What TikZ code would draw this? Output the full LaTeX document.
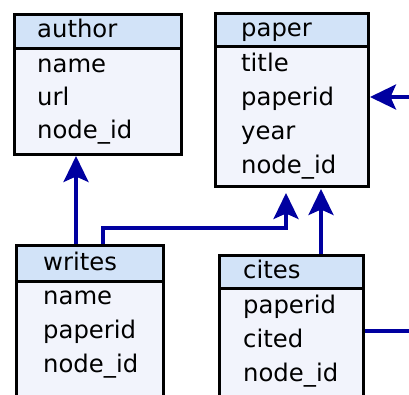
\documentclass[tikz,border=0pt]{standalone}
\usepackage{fontspec}
\setmainfont{DejaVu Sans}
\usetikzlibrary{arrows.meta}
\definecolor{hdr}{RGB}{210,227,248}
\definecolor{bdy}{RGB}{242,244,252}
\definecolor{lnk}{RGB}{0,0,160}
\begin{document}
\begin{tikzpicture}[x=1pt,y=-1pt,
  cell/.style={draw=black,line width=3pt,anchor=north west,inner sep=0pt},
  headcell/.style={cell,fill=hdr},
  bodycell/.style={cell,fill=bdy},
  fld/.style={anchor=base west,inner sep=0pt,font=\fontsize{24.3}{28}\selectfont},
  link/.style={draw=lnk,line width=3.2pt},
  linkarrow/.style={link,-{Stealth[length=26pt 0 0,width=25pt 0 0,inset=5.5pt]}}]
\path[use as bounding box] (0,0) rectangle (409,394);
\clip (0,0) rectangle (409,394);

% table: author
\node[headcell,minimum width=167pt,minimum height=34pt] (authorH) at (13,13) {};
\node[bodycell,minimum width=167pt,minimum height=106pt] (authorB) at (13,47) {};
\node[fld] (authorT) at (37,37) {author};
\node[fld] (authorF1) at (37,72) {name};
\node[fld] (authorF2) at (37,105) {url};
\node[fld] (authorF3) at (37,138) {node\_id};

% table: paper
\node[headcell,minimum width=153pt,minimum height=33pt] (paperH) at (214,12) {};
\node[bodycell,minimum width=153pt,minimum height=140pt] (paperB) at (214,45) {};
\node[fld] (paperT) at (241,36) {paper};
\node[fld] (paperF1) at (241,71) {title};
\node[fld] (paperF2) at (241,105) {paperid};
\node[fld] (paperF3) at (241,139) {year};
\node[fld] (paperF4) at (241,173) {node\_id};

% table: writes
\node[headcell,minimum width=147pt,minimum height=36pt] (writesH) at (15,244) {};
\node[bodycell,minimum width=147pt,minimum height=130pt] (writesB) at (15,280) {};
\node[fld] (writesT) at (43,270) {writes};
\node[fld] (writesF1) at (43,304) {name};
\node[fld] (writesF2) at (43,338) {paperid};
\node[fld] (writesF3) at (43,372) {node\_id};

% table: cites
\node[headcell,minimum width=144pt,minimum height=33pt] (citesH) at (218,254) {};
\node[bodycell,minimum width=144pt,minimum height=130pt] (citesB) at (218,287) {};
\node[fld] (citesT) at (243,278) {cites};
\node[fld] (citesF1) at (243,313) {paperid};
\node[fld] (citesF2) at (243,347) {cited};
\node[fld] (citesF3) at (243,381) {node\_id};

% foreign keys
\coordinate (wbend) at (286,228);
\coordinate (inR) at (409,97);
\coordinate (outR) at (409,331);
\draw[linkarrow] ([xshift=61pt]writesH.north west) -- ([xshift=63pt]authorB.south west);
\draw[linkarrow] ([xshift=88pt]writesH.north west) |- (wbend) -- ([xshift=72pt,yshift=-5pt]paperB.south west);
\draw[linkarrow] ([xshift=103pt]citesH.north west) -- ([xshift=107pt,yshift=-1pt]paperB.south west);
\draw[linkarrow] (inR) -- (inR -| paperB.east);
\draw[link] (outR -| citesB.east) -- (outR);
\end{tikzpicture}
\end{document}
